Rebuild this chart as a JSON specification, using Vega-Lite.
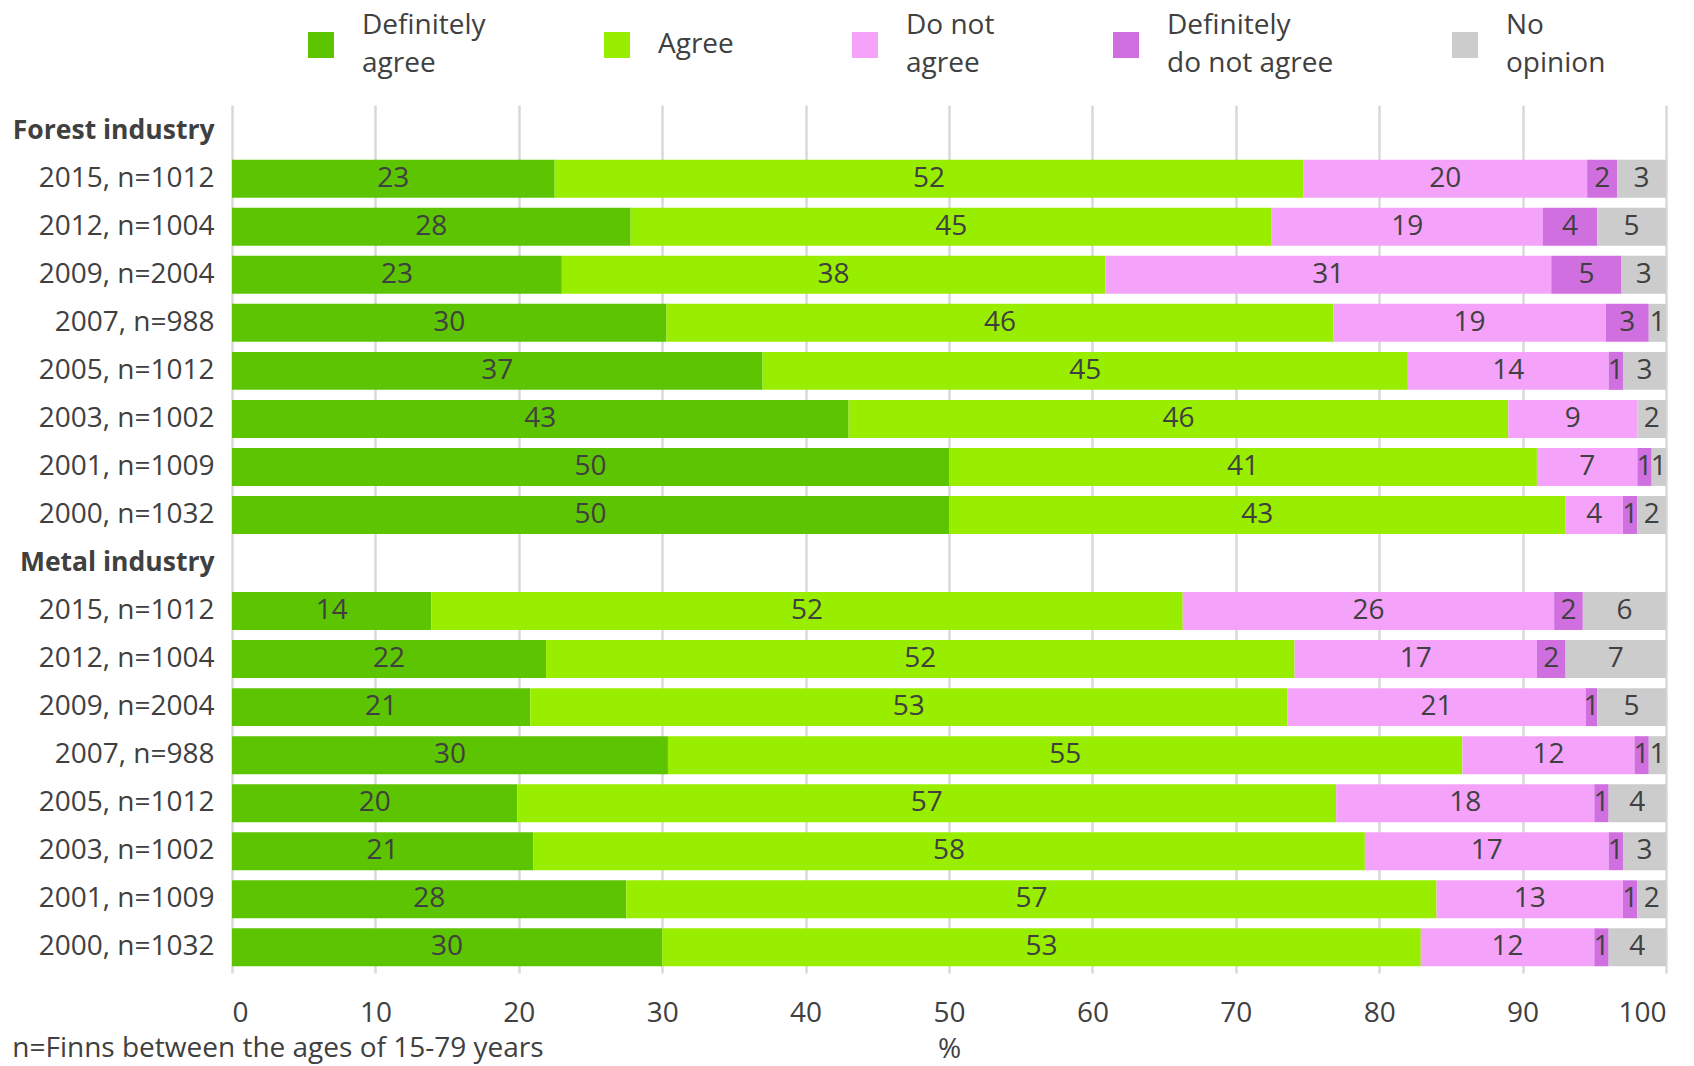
{
"$schema": "https://vega.github.io/schema/vega-lite/v6.json",
"width": 1434, "height": 868,
"autosize": {"type": "none"},
"padding": {"left": 232, "top": 105, "right": 28, "bottom": 93},
"background": "white",
"config": {"view": {"stroke": null}, "font": "Open Sans", "style": {"guide-label": {"lineHeight": 38}}},
"title": {"text": "n=Finns between the ages of 15-79 years", "orient": "bottom", "anchor": "start", "frame": "bounds", "fontSize": 28, "fontWeight": "normal", "color": "#404040", "offset": -28},
"data": {"values": [
{"r":"F 2015, n=1012","c":"Definitely agree","k":1,"v":22.5,"lab":"23"},
{"r":"F 2015, n=1012","c":"Agree","k":2,"v":52.2,"lab":"52"},
{"r":"F 2015, n=1012","c":"Do not agree","k":3,"v":19.8,"lab":"20"},
{"r":"F 2015, n=1012","c":"Definitely do not agree","k":4,"v":2.1,"lab":"2"},
{"r":"F 2015, n=1012","c":"No opinion","k":5,"v":3.4,"lab":"3"},
{"r":"F 2012, n=1004","c":"Definitely agree","k":1,"v":27.8,"lab":"28"},
{"r":"F 2012, n=1004","c":"Agree","k":2,"v":44.7,"lab":"45"},
{"r":"F 2012, n=1004","c":"Do not agree","k":3,"v":18.9,"lab":"19"},
{"r":"F 2012, n=1004","c":"Definitely do not agree","k":4,"v":3.8,"lab":"4"},
{"r":"F 2012, n=1004","c":"No opinion","k":5,"v":4.8,"lab":"5"},
{"r":"F 2009, n=2004","c":"Definitely agree","k":1,"v":23.0,"lab":"23"},
{"r":"F 2009, n=2004","c":"Agree","k":2,"v":37.9,"lab":"38"},
{"r":"F 2009, n=2004","c":"Do not agree","k":3,"v":31.1,"lab":"31"},
{"r":"F 2009, n=2004","c":"Definitely do not agree","k":4,"v":4.9,"lab":"5"},
{"r":"F 2009, n=2004","c":"No opinion","k":5,"v":3.1,"lab":"3"},
{"r":"F 2007, n=988","c":"Definitely agree","k":1,"v":30.3,"lab":"30"},
{"r":"F 2007, n=988","c":"Agree","k":2,"v":46.5,"lab":"46"},
{"r":"F 2007, n=988","c":"Do not agree","k":3,"v":19.0,"lab":"19"},
{"r":"F 2007, n=988","c":"Definitely do not agree","k":4,"v":3.0,"lab":"3"},
{"r":"F 2007, n=988","c":"No opinion","k":5,"v":1.2,"lab":"1"},
{"r":"F 2005, n=1012","c":"Definitely agree","k":1,"v":37.0,"lab":"37"},
{"r":"F 2005, n=1012","c":"Agree","k":2,"v":45.0,"lab":"45"},
{"r":"F 2005, n=1012","c":"Do not agree","k":3,"v":14.0,"lab":"14"},
{"r":"F 2005, n=1012","c":"Definitely do not agree","k":4,"v":1.0,"lab":"1"},
{"r":"F 2005, n=1012","c":"No opinion","k":5,"v":3.0,"lab":"3"},
{"r":"F 2003, n=1002","c":"Definitely agree","k":1,"v":43.0,"lab":"43"},
{"r":"F 2003, n=1002","c":"Agree","k":2,"v":46.0,"lab":"46"},
{"r":"F 2003, n=1002","c":"Do not agree","k":3,"v":9.0,"lab":"9"},
{"r":"F 2003, n=1002","c":"No opinion","k":5,"v":2.0,"lab":"2"},
{"r":"F 2001, n=1009","c":"Definitely agree","k":1,"v":50.0,"lab":"50"},
{"r":"F 2001, n=1009","c":"Agree","k":2,"v":41.0,"lab":"41"},
{"r":"F 2001, n=1009","c":"Do not agree","k":3,"v":7.0,"lab":"7"},
{"r":"F 2001, n=1009","c":"Definitely do not agree","k":4,"v":1.0,"lab":"1"},
{"r":"F 2001, n=1009","c":"No opinion","k":5,"v":1.0,"lab":"1"},
{"r":"F 2000, n=1032","c":"Definitely agree","k":1,"v":50.0,"lab":"50"},
{"r":"F 2000, n=1032","c":"Agree","k":2,"v":43.0,"lab":"43"},
{"r":"F 2000, n=1032","c":"Do not agree","k":3,"v":4.0,"lab":"4"},
{"r":"F 2000, n=1032","c":"Definitely do not agree","k":4,"v":1.0,"lab":"1"},
{"r":"F 2000, n=1032","c":"No opinion","k":5,"v":2.0,"lab":"2"},
{"r":"M 2015, n=1012","c":"Definitely agree","k":1,"v":13.9,"lab":"14"},
{"r":"M 2015, n=1012","c":"Agree","k":2,"v":52.4,"lab":"52"},
{"r":"M 2015, n=1012","c":"Do not agree","k":3,"v":25.9,"lab":"26"},
{"r":"M 2015, n=1012","c":"Definitely do not agree","k":4,"v":2.0,"lab":"2"},
{"r":"M 2015, n=1012","c":"No opinion","k":5,"v":5.8,"lab":"6"},
{"r":"M 2012, n=1004","c":"Definitely agree","k":1,"v":21.9,"lab":"22"},
{"r":"M 2012, n=1004","c":"Agree","k":2,"v":52.2,"lab":"52"},
{"r":"M 2012, n=1004","c":"Do not agree","k":3,"v":16.9,"lab":"17"},
{"r":"M 2012, n=1004","c":"Definitely do not agree","k":4,"v":2.0,"lab":"2"},
{"r":"M 2012, n=1004","c":"No opinion","k":5,"v":7.0,"lab":"7"},
{"r":"M 2009, n=2004","c":"Definitely agree","k":1,"v":20.8,"lab":"21"},
{"r":"M 2009, n=2004","c":"Agree","k":2,"v":52.8,"lab":"53"},
{"r":"M 2009, n=2004","c":"Do not agree","k":3,"v":20.8,"lab":"21"},
{"r":"M 2009, n=2004","c":"Definitely do not agree","k":4,"v":0.8,"lab":"1"},
{"r":"M 2009, n=2004","c":"No opinion","k":5,"v":4.8,"lab":"5"},
{"r":"M 2007, n=988","c":"Definitely agree","k":1,"v":30.4,"lab":"30"},
{"r":"M 2007, n=988","c":"Agree","k":2,"v":55.4,"lab":"55"},
{"r":"M 2007, n=988","c":"Do not agree","k":3,"v":12.0,"lab":"12"},
{"r":"M 2007, n=988","c":"Definitely do not agree","k":4,"v":1.0,"lab":"1"},
{"r":"M 2007, n=988","c":"No opinion","k":5,"v":1.2,"lab":"1"},
{"r":"M 2005, n=1012","c":"Definitely agree","k":1,"v":19.9,"lab":"20"},
{"r":"M 2005, n=1012","c":"Agree","k":2,"v":57.1,"lab":"57"},
{"r":"M 2005, n=1012","c":"Do not agree","k":3,"v":18.0,"lab":"18"},
{"r":"M 2005, n=1012","c":"Definitely do not agree","k":4,"v":1.0,"lab":"1"},
{"r":"M 2005, n=1012","c":"No opinion","k":5,"v":4.0,"lab":"4"},
{"r":"M 2003, n=1002","c":"Definitely agree","k":1,"v":21.0,"lab":"21"},
{"r":"M 2003, n=1002","c":"Agree","k":2,"v":58.0,"lab":"58"},
{"r":"M 2003, n=1002","c":"Do not agree","k":3,"v":17.0,"lab":"17"},
{"r":"M 2003, n=1002","c":"Definitely do not agree","k":4,"v":1.0,"lab":"1"},
{"r":"M 2003, n=1002","c":"No opinion","k":5,"v":3.0,"lab":"3"},
{"r":"M 2001, n=1009","c":"Definitely agree","k":1,"v":27.5,"lab":"28"},
{"r":"M 2001, n=1009","c":"Agree","k":2,"v":56.5,"lab":"57"},
{"r":"M 2001, n=1009","c":"Do not agree","k":3,"v":13.0,"lab":"13"},
{"r":"M 2001, n=1009","c":"Definitely do not agree","k":4,"v":1.0,"lab":"1"},
{"r":"M 2001, n=1009","c":"No opinion","k":5,"v":2.0,"lab":"2"},
{"r":"M 2000, n=1032","c":"Definitely agree","k":1,"v":30.0,"lab":"30"},
{"r":"M 2000, n=1032","c":"Agree","k":2,"v":52.9,"lab":"53"},
{"r":"M 2000, n=1032","c":"Do not agree","k":3,"v":12.1,"lab":"12"},
{"r":"M 2000, n=1032","c":"Definitely do not agree","k":4,"v":1.0,"lab":"1"},
{"r":"M 2000, n=1032","c":"No opinion","k":5,"v":4.0,"lab":"4"}
]},
"encoding": {
  "y": {"field": "r", "type": "nominal", "title": null,
    "scale": {"domain": ["H Forest industry","F 2015, n=1012","F 2012, n=1004","F 2009, n=2004","F 2007, n=988","F 2005, n=1012","F 2003, n=1002","F 2001, n=1009","F 2000, n=1032","H Metal industry","M 2015, n=1012","M 2012, n=1004","M 2009, n=2004","M 2007, n=988","M 2005, n=1012","M 2003, n=1002","M 2001, n=1009","M 2000, n=1032"], "paddingInner": 0.21, "paddingOuter": 0.14},
    "axis": {"domain": false, "ticks": false, "labelPadding": 18, "labelColor": "#404040", "labelLimit": 400,
      "labelExpr": "slice(datum.value, 2)",
      "labelFontSize": {"condition": {"test": "slice(datum.value, 0, 1) == 'H'", "value": 26.5}, "value": 28},
      "labelFontWeight": {"condition": {"test": "slice(datum.value, 0, 1) == 'H'", "value": "bold"}, "value": "normal"}}}
},
"layer": [
  {"mark": {"type": "bar"},
   "encoding": {
     "x": {"field": "v", "type": "quantitative", "stack": "zero", "title": "%",
       "scale": {"domain": [0, 100], "nice": false},
       "axis": {"values": [0,10,20,30,40,50,60,70,80,90,100], "domain": false, "ticks": false, "grid": true, "gridColor": "#d9d9d9", "gridWidth": 2.5,
         "labelFontSize": 28, "labelColor": "#404040", "labelPadding": 26, "titleFontSize": 28, "titleFontWeight": "normal", "titleColor": "#404040", "titlePadding": 8}},
     "color": {"field": "c", "type": "nominal",
       "scale": {"domain": ["Definitely agree","Agree","Do not agree","Definitely do not agree","No opinion"], "range": ["#5CC400","#99EE00","#F5A3FA","#D070E0","#CCCCCC"]},
       "legend": {"orient": "none", "legendX": 75, "legendY": -100, "direction": "horizontal", "columns": 5, "title": null,
         "symbolType": "square", "symbolSize": 676, "symbolStrokeWidth": 0, "labelFontSize": 28, "labelColor": "#404040",
         "labelOffset": 27, "columnPadding": 117, "labelLimit": 400, "padding": 0, "clipHeight": 80,
         "labelExpr": "datum.label == 'Definitely agree' ? ['Definitely','agree'] : datum.label == 'Do not agree' ? ['Do not','agree'] : datum.label == 'Definitely do not agree' ? ['Definitely','do not agree'] : datum.label == 'No opinion' ? ['No','opinion'] : datum.label",
         "encode": {"labels": {"enter": {"dy": {"signal": "indexof(datum.label, ' ') >= 0 ? -19 : 0"}}, "update": {"dy": {"signal": "indexof(datum.label, ' ') >= 0 ? -19 : 0"}}}}}},
     "order": {"field": "k", "type": "quantitative"}
   }},
  {"mark": {"type": "text", "fontSize": 28, "color": "#404040"},
   "encoding": {
     "x": {"field": "v", "type": "quantitative", "stack": "zero", "bandPosition": 0.5},
     "detail": {"field": "c"},
     "text": {"field": "lab"},
     "order": {"field": "k", "type": "quantitative"}
   }}
]
}
